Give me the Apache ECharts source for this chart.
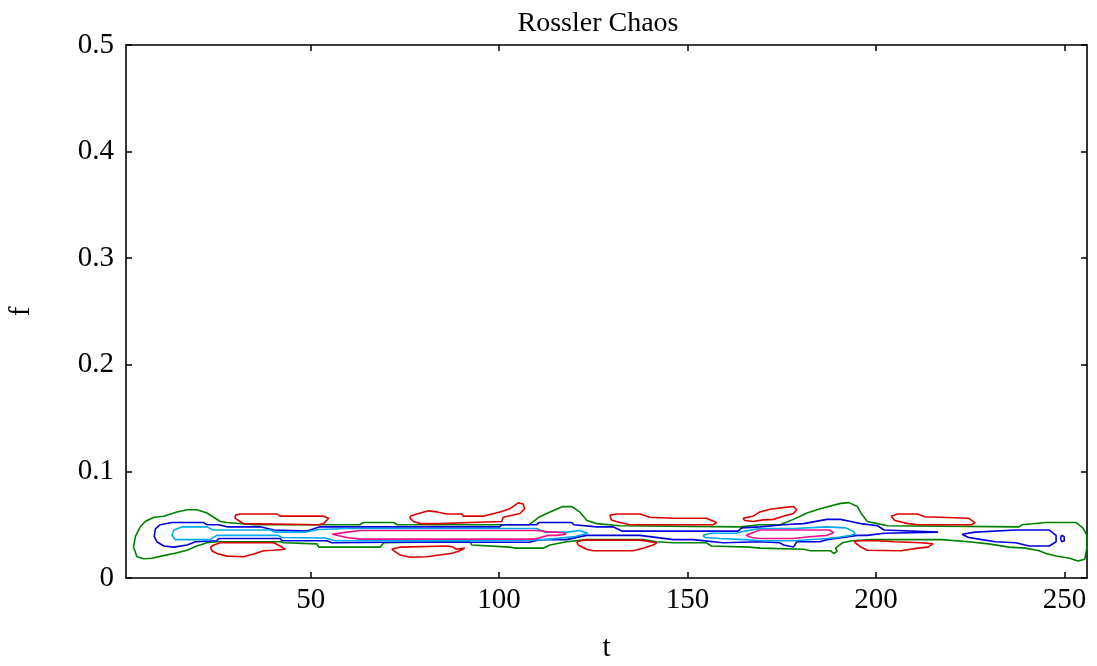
<!DOCTYPE html>
<html>
<head>
<meta charset="utf-8">
<script src="https://cdn.jsdelivr.net/npm/echarts@6/dist/echarts.min.js"></script>
<style>
html, body { margin: 0; padding: 0; background: #fff; }
#chart { width: 1097px; height: 666px; }
</style>
</head>
<body>
<div id="chart"></div>
<script>
// axis ticks
const tTicks = [50, 100, 150, 200, 250];
const fTicks = [0, 0.1, 0.2, 0.3, 0.4, 0.5];

// contour lines, [t, f]
const greenLoops = [
  [[3.0,0.029],[3.5,0.039],[4.8,0.048],[6.1,0.053],[8.4,0.057],[11,0.058],[14.5,0.062],[17.2,0.064],[19.8,0.064],[22.5,0.061],[26,0.053],[27.8,0.052],[35,0.050],[63,0.050],[64,0.052],[72,0.052],[73,0.050],[108,0.050],[110.8,0.0575],[113.5,0.062],[116.9,0.067],[119.3,0.067],[121.4,0.062],[123.3,0.054],[125.9,0.051],[132,0.049],[164,0.048],[169.2,0.050],[174.5,0.050],[178.1,0.055],[181.7,0.061],[185.2,0.065],[190.6,0.070],[192.8,0.0707],[195.1,0.067],[196,0.061],[197.7,0.053],[200.4,0.051],[203.1,0.049],[238,0.048],[238.8,0.050],[245.1,0.052],[253.1,0.052],[254.9,0.047],[256,0.040],
   [256,0.029],[255.4,0.0175],[253.6,0.016],[251.4,0.0185],[247.8,0.0206],[245.1,0.023],[243.3,0.0256],[239.7,0.028],[235.3,0.029],[229.9,0.032],[224.6,0.034],[217.4,0.036],[198.6,0.036],[193.7,0.035],[191.1,0.033],[189.3,0.028],[189.7,0.025],[188.8,0.023],[187.9,0.0256],[182.6,0.0256],[180.8,0.027],[169.2,0.028],[166.5,0.029],[156.4,0.030],[155,0.033],[146.2,0.033],[141.8,0.034],[138.2,0.036],[123.2,0.036],[117.9,0.034],[113.5,0.031],[111.7,0.028],[104.2,0.028],[102.9,0.029],[92.7,0.031],[92.3,0.034],[86.2,0.034],[69.4,0.033],[68.5,0.029],[52.1,0.029],[51.7,0.032],[42.8,0.033],[41.9,0.034],[25.1,0.034],[22.5,0.033],[19.8,0.030],[17.2,0.026],[13.7,0.023],[11,0.021],[7.9,0.0185],[5.7,0.018],[3.9,0.020]]
];

const redLoops = [
  [[30.0,0.059],[31.3,0.060],[41.1,0.060],[41.9,0.058],[53.4,0.058],[54.8,0.056],[53.4,0.051],[52.1,0.050],[32.2,0.051],[31.3,0.053],[30.0,0.056]],
  [[23.4,0.029],[24.3,0.031],[26.0,0.033],[40.2,0.033],[40.6,0.032],[42.4,0.029],[43.3,0.027],[40.2,0.026],[37.5,0.0255],[34.9,0.0225],[32.2,0.020],[27.8,0.0205],[25.1,0.023],[23.8,0.0255]],
  [[76.4,0.058],[78.6,0.0605],[81.3,0.063],[83.5,0.062],[86.2,0.060],[90.1,0.060],[90.5,0.058],[95.8,0.058],[100.2,0.062],[102.9,0.065],[105.1,0.0705],[106.4,0.0695],[106.8,0.065],[105.5,0.0605],[101.1,0.057],[100.7,0.053],[92.3,0.052],[84.3,0.051],[79.1,0.051],[77.3,0.053],[76.4,0.056]],
  [[71.5,0.027],[73.8,0.029],[86.2,0.030],[87.8,0.029],[88.7,0.027],[90.9,0.028],[89.6,0.0255],[87.8,0.0235],[86.1,0.0225],[80.8,0.020],[76.4,0.0195],[73.8,0.0215],[72.5,0.0245]],
  [[129.4,0.059],[131.2,0.060],[137.4,0.060],[140,0.057],[146.2,0.056],[155.0,0.056],[157.7,0.052],[156.8,0.050],[134.7,0.050],[132.0,0.052],[129.8,0.0545]],
  [[120.6,0.034],[121.0,0.031],[123.2,0.027],[125.0,0.0255],[135.6,0.0255],[138.2,0.028],[140.9,0.031],[141.8,0.033],[137.4,0.0355],[122.3,0.0355]],
  [[164.7,0.056],[167.4,0.058],[169.2,0.062],[171.9,0.0645],[175.4,0.066],[178.1,0.067],[179.0,0.064],[178.1,0.0605],[175.4,0.058],[172.8,0.055],[170.1,0.0545],[167.4,0.053],[165.2,0.054]],
  [[194.2,0.034],[196.0,0.029],[197.7,0.026],[206.7,0.0255],[211.1,0.028],[213.8,0.029],[215.2,0.032],[212.0,0.033],[204.9,0.034],[200.4,0.035],[195.1,0.035]],
  [[204.0,0.058],[205.8,0.060],[211.1,0.060],[212.9,0.0575],[224.6,0.056],[226.3,0.052],[225.4,0.050],[211.1,0.050],[208.5,0.051],[205.0,0.054]]
];

const blueLoops = [
  [[13.2,0.052],[21.6,0.052],[22.5,0.050],[25.6,0.050],[27.8,0.048],[36.6,0.048],[40.3,0.045],[49.0,0.044],[52.5,0.048],[63.1,0.048],[100.2,0.048],[100.7,0.050],[110.0,0.050],[110.6,0.052],[119.3,0.052],[119.8,0.050],[125.9,0.048],[130.2,0.048],[132.6,0.044],[163.4,0.044],[164.4,0.047],[169.2,0.048],[175.4,0.050],[180.8,0.051],[187.0,0.055],[190.6,0.055],[193.3,0.053],[196.0,0.051],[200.4,0.049],[202.2,0.045],[216.5,0.043],[216.5,0.042],[202.2,0.042],[197.7,0.040],[195.1,0.040],[187.0,0.036],[185.1,0.034],[179.0,0.034],[178.1,0.029],[175.5,0.031],[174.5,0.033],[169.2,0.034],[159.4,0.033],[151.5,0.036],[146.2,0.036],[137.4,0.040],[123.2,0.040],[117.9,0.036],[110.8,0.036],[108,0.0335],[70.7,0.0335],[70.2,0.033],[55.6,0.033],[54.3,0.035],[42.4,0.035],[41.9,0.037],[25.6,0.037],[25.1,0.035],[19.4,0.034],[17.2,0.031],[13.7,0.029],[11.0,0.030],[9.2,0.034],[8.5,0.039],[8.8,0.046],[10.1,0.050]],
  [[222.8,0.041],[226.3,0.043],[237.1,0.045],[246.0,0.045],[247.8,0.040],[247.8,0.034],[246.0,0.030],[240.6,0.030],[237.1,0.033],[231.7,0.034],[228.1,0.036],[224.6,0.038]],
  [[249.2,0.040],[249.9,0.039],[250.0,0.035],[249.3,0.034],[249.0,0.037]]
];

const cyanLoops = [
  [[15.9,0.048],[22.5,0.048],[24.1,0.045],[39.2,0.045],[40.8,0.043],[48.5,0.043],[52.0,0.0455],[60,0.0465],[110.0,0.0465],[112.2,0.043],[118.0,0.043],[121.4,0.0445],[123.5,0.042],[123.5,0.041],[120.1,0.039],[112.2,0.036],[100,0.035],[56.5,0.035],[53.8,0.0375],[42.4,0.038],[41.3,0.040],[25.1,0.040],[23.3,0.036],[14.1,0.036],[13.2,0.040],[13.7,0.045]],
  [[154.1,0.040],[156,0.042],[163,0.042],[165.2,0.044],[169.2,0.0465],[178.2,0.0465],[187,0.048],[192,0.047],[194.1,0.0435],[194.5,0.041],[193.3,0.040],[190.6,0.0385],[187,0.037],[178.2,0.035],[169.2,0.035],[165.2,0.036],[158.6,0.037],[154.6,0.038]]
];

const magentaLoops = [
  [[55.7,0.041],[59.6,0.043],[63.1,0.0445],[110,0.0445],[112.7,0.0435],[117,0.0425],[117.8,0.041],[115.3,0.040],[113,0.040],[110.5,0.0375],[109,0.0365],[63.1,0.0365],[59.6,0.038]],
  [[165.5,0.040],[167.3,0.0425],[169.2,0.045],[187.7,0.045],[188.8,0.0425],[188.8,0.041],[187,0.040],[181.7,0.0385],[178.1,0.037],[169.2,0.037],[167,0.038]]
];

const serif = '"Liberation Serif", "Times New Roman", serif';

function loopSeries (loops, color) {
  return loops.map(function (pts) {
    return {
      type: 'line',
      data: pts.concat([pts[0]]),
      showSymbol: false,
      symbol: 'none',
      silent: true,
      animation: false,
      lineStyle: { color: color, width: 1.6 }
    };
  });
}

let chart = echarts.init(document.getElementById('chart'));
let axisLine = { show: true, onZero: false, lineStyle: { color: '#000', width: 1.6 } };
let tickStyle = { color: '#000', width: 1.5 };
let option = {
  backgroundColor: '#fff',
  animation: false,
  title: {
    text: 'Rossler Chaos',
    left: 593,
    top: 5,
    textAlign: 'center',
    textStyle: { fontFamily: serif, fontSize: 28, fontWeight: 'normal', color: '#000' }
  },
  grid: { left: 126, right: 10, top: 45, bottom: 88, outerBoundsMode: 'none', containLabel: false },
  xAxis: [{
    type: 'value',
    min: 1,
    max: 256,
    name: 't',
    nameLocation: 'middle',
    nameGap: 56,
    nameTextStyle: { fontFamily: serif, fontSize: 29, color: '#000' },
    axisLine: axisLine,
    axisTick: { show: true, inside: true, length: 6, customValues: tTicks, lineStyle: tickStyle },
    axisLabel: { customValues: tTicks, fontFamily: serif, fontSize: 29, color: '#000', margin: 8 },
    splitLine: { show: false }
  }, {
    type: 'value',
    position: 'top',
    min: 1,
    max: 256,
    axisLine: axisLine,
    axisTick: { show: true, inside: true, length: 6, customValues: tTicks, lineStyle: tickStyle },
    axisLabel: { show: false },
    splitLine: { show: false }
  }],
  yAxis: [{
    type: 'value',
    min: 0,
    max: 0.5,
    interval: 0.1,
    name: 'f',
    nameLocation: 'middle',
    nameGap: 90,
    nameRotate: 90,
    nameTextStyle: { fontFamily: serif, fontSize: 29, color: '#000' },
    axisLine: axisLine,
    axisTick: { show: true, inside: true, length: 6, customValues: fTicks, lineStyle: tickStyle },
    axisLabel: {
      customValues: fTicks,
      fontFamily: serif, fontSize: 29, color: '#000', margin: 12,
      formatter: function (v) { return String(+v.toFixed(1)); }
    },
    splitLine: { show: false }
  }, {
    type: 'value',
    position: 'right',
    min: 0,
    max: 0.5,
    interval: 0.1,
    axisLine: axisLine,
    axisTick: { show: true, inside: true, length: 6, customValues: fTicks, lineStyle: tickStyle },
    axisLabel: { show: false },
    splitLine: { show: false }
  }],
  series: [].concat(
    loopSeries(greenLoops, '#008000'),
    loopSeries(redLoops, '#dd0000'),
    loopSeries(blueLoops, '#0000dd'),
    loopSeries(cyanLoops, '#00aaee'),
    loopSeries(magentaLoops, '#ee1188')
  )
};
chart.setOption(option);
</script>
</body>
</html>
